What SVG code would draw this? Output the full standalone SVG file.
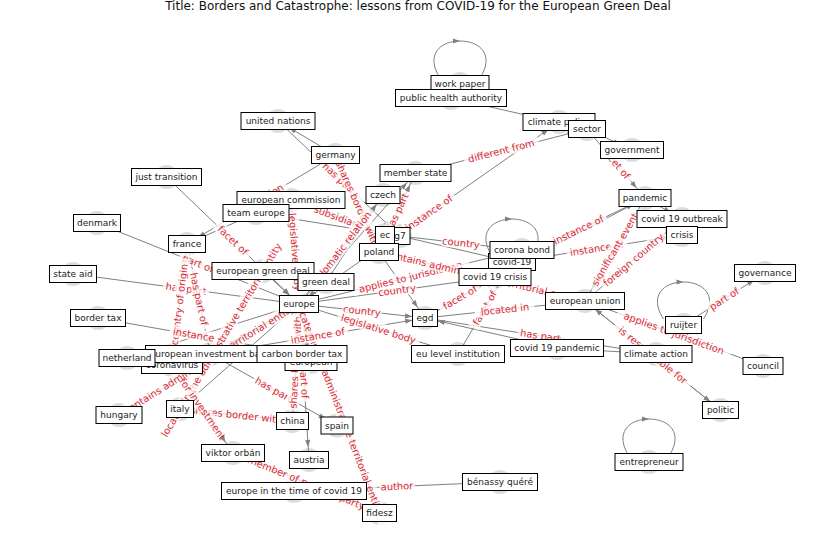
<svg xmlns="http://www.w3.org/2000/svg" width="837" height="559" viewBox="0 0 837 559">
<style>
.c{fill:#dddddd}
.b{fill:#fff;stroke:#000;stroke-width:1}
.t{font-family:"DejaVu Sans",sans-serif;font-size:9px;fill:#222;text-anchor:middle}
.e{stroke:#808080;stroke-width:1;fill:none}
.a{marker-end:url(#ah)}
.el rect{fill:#fff;fill-opacity:0.75}
.el text{font-family:"DejaVu Sans",sans-serif;font-size:9px;fill:#dc2a35;text-anchor:middle}
.lp{fill:#808080}
</style>
<defs>
<marker id="ah" markerUnits="userSpaceOnUse" markerWidth="30" markerHeight="10" refX="20" refY="0" viewBox="0 -5 30 10" orient="auto" overflow="visible"><path d="M0,-2.6 L7,0 L0,2.6 z" fill="#808080"/></marker>
</defs>
<rect width="837" height="559" fill="#fff"/>
<text x="418" y="10" font-family="DejaVu Sans,sans-serif" font-size="12" fill="#111" text-anchor="middle">Title: Borders and Catastrophe: lessons from COVID-19 for the European Green Deal</text>
<g id="circles">
<circle class="c" cx="460" cy="84" r="12"/><circle class="c" cx="451" cy="98" r="12"/><circle class="c" cx="278" cy="121" r="12"/><circle class="c" cx="335.5" cy="155" r="12"/><circle class="c" cx="559" cy="122" r="12"/><circle class="c" cx="587" cy="129" r="12"/><circle class="c" cx="632" cy="150" r="12"/><circle class="c" cx="166.5" cy="177" r="12"/><circle class="c" cx="415.5" cy="173" r="12"/><circle class="c" cx="291" cy="200" r="12"/><circle class="c" cx="383" cy="195" r="12"/><circle class="c" cx="645" cy="198" r="12"/><circle class="c" cx="256" cy="213" r="12"/><circle class="c" cx="682" cy="219" r="12"/><circle class="c" cx="97" cy="223" r="12"/><circle class="c" cx="385" cy="235" r="12"/><circle class="c" cx="400" cy="236" r="12"/><circle class="c" cx="682" cy="235" r="12"/><circle class="c" cx="522" cy="250" r="12"/><circle class="c" cx="187" cy="244" r="12"/><circle class="c" cx="379" cy="252" r="12"/><circle class="c" cx="512" cy="262" r="12"/><circle class="c" cx="73" cy="274" r="12"/><circle class="c" cx="263" cy="271" r="12"/><circle class="c" cx="765" cy="273" r="12"/><circle class="c" cx="326" cy="282" r="12"/><circle class="c" cx="495" cy="277" r="12"/><circle class="c" cx="299" cy="304" r="12"/><circle class="c" cx="585" cy="301" r="12"/><circle class="c" cx="98" cy="318" r="12"/><circle class="c" cx="425" cy="318" r="12"/><circle class="c" cx="683.5" cy="325" r="12"/><circle class="c" cx="557" cy="348" r="12"/><circle class="c" cx="210.5" cy="354" r="12"/><circle class="c" cx="302" cy="354" r="12"/><circle class="c" cx="127" cy="358" r="12"/><circle class="c" cx="458" cy="354" r="12"/><circle class="c" cx="656" cy="354" r="12"/><circle class="c" cx="172" cy="365" r="12"/><circle class="c" cx="311" cy="362" r="12"/><circle class="c" cx="763" cy="366" r="12"/><circle class="c" cx="119" cy="415" r="12"/><circle class="c" cx="180" cy="409" r="12"/><circle class="c" cx="720.5" cy="410" r="12"/><circle class="c" cx="292.5" cy="421" r="12"/><circle class="c" cx="337" cy="425.5" r="12"/><circle class="c" cx="233" cy="453" r="12"/><circle class="c" cx="309" cy="460" r="12"/><circle class="c" cx="649" cy="462" r="12"/><circle class="c" cx="500" cy="482" r="12"/><circle class="c" cx="294" cy="491" r="12"/><circle class="c" cx="379.5" cy="513" r="12"/>
</g>
<g id="edges">
<path class="e" d="M440,78 C425,55 440,41 460,41 C480,41 495,55 480,78"/><path class="lp" d="M453,38.5 L460,41 L453,43.5 z"/>
<path class="e" d="M492,256 C477,233 492,219 512,219 C532,219 547,233 532,256"/><path class="lp" d="M505,216.5 L512,219 L505,221.5 z"/>
<path class="e" d="M663.5,319 C648.5,296 663.5,282 683.5,282 C703.5,282 718.5,296 703.5,319"/><path class="lp" d="M676.5,279.5 L683.5,282 L676.5,284.5 z"/>
<path class="e" d="M629,456 C614,433 629,419 649,419 C669,419 684,433 669,456"/><path class="lp" d="M642,416.5 L649,419 L642,421.5 z"/>
<line class="e a" x1="451" y1="98" x2="587" y2="129"/>
<line class="e a" x1="335.5" y1="155" x2="278" y2="121"/>
<line class="e a" x1="335.5" y1="155" x2="187" y2="244"/>
<line class="e a" x1="415.5" y1="173" x2="587" y2="129"/>
<line class="e a" x1="299" y1="304" x2="559" y2="122"/>
<line class="e a" x1="335.5" y1="155" x2="379" y2="252"/>
<line class="e a" x1="278" y1="121" x2="400" y2="236"/>
<line class="e a" x1="291" y1="200" x2="385" y2="235"/>
<line class="e a" x1="256" y1="213" x2="187" y2="244"/>
<line class="e a" x1="256" y1="213" x2="400" y2="236"/>
<line class="e a" x1="166.5" y1="177" x2="299" y2="304"/>
<line class="e a" x1="97" y1="223" x2="299" y2="304"/>
<line class="e a" x1="172" y1="365" x2="187" y2="244"/>
<line class="e a" x1="210.5" y1="354" x2="187" y2="244"/>
<line class="e a" x1="73" y1="274" x2="299" y2="304"/>
<line class="e a" x1="302" y1="354" x2="98" y2="318"/>
<line class="e a" x1="127" y1="358" x2="299" y2="304"/>
<line class="e a" x1="210.5" y1="354" x2="299" y2="304"/>
<line class="e a" x1="299" y1="304" x2="119" y2="415"/>
<line class="e a" x1="263" y1="271" x2="180" y2="409"/>
<line class="e a" x1="299" y1="304" x2="180" y2="409"/>
<line class="e a" x1="292.5" y1="421" x2="180" y2="409"/>
<line class="e a" x1="172" y1="365" x2="233" y2="453"/>
<line class="e a" x1="210.5" y1="354" x2="337" y2="425.5"/>
<line class="e a" x1="299" y1="304" x2="292.5" y2="421"/>
<line class="e a" x1="299" y1="304" x2="309" y2="460"/>
<line class="e a" x1="299" y1="304" x2="311" y2="362"/>
<line class="e a" x1="299" y1="304" x2="379.5" y2="513"/>
<line class="e a" x1="233" y1="453" x2="379.5" y2="513"/>
<line class="e a" x1="294" y1="491" x2="500" y2="482"/>
<line class="e a" x1="263" y1="271" x2="299" y2="304"/>
<line class="e a" x1="326" y1="282" x2="299" y2="304"/>
<line class="e a" x1="291" y1="200" x2="299" y2="304"/>
<line class="e a" x1="299" y1="304" x2="383" y2="195"/>
<line class="e a" x1="326" y1="282" x2="383" y2="195"/>
<line class="e a" x1="379" y1="252" x2="415.5" y2="173"/>
<line class="e a" x1="299" y1="304" x2="415.5" y2="173"/>
<line class="e a" x1="299" y1="304" x2="425" y2="318"/>
<line class="e a" x1="299" y1="304" x2="495" y2="277"/>
<line class="e a" x1="299" y1="304" x2="458" y2="354"/>
<line class="e a" x1="299" y1="304" x2="522" y2="250"/>
<line class="e a" x1="585" y1="301" x2="379" y2="252"/>
<line class="e a" x1="400" y1="236" x2="522" y2="250"/>
<line class="e a" x1="400" y1="236" x2="512" y2="262"/>
<line class="e a" x1="379" y1="252" x2="425" y2="318"/>
<line class="e a" x1="512" y1="262" x2="645" y2="198"/>
<line class="e a" x1="495" y1="277" x2="645" y2="198"/>
<line class="e a" x1="512" y1="262" x2="682" y2="235"/>
<line class="e a" x1="645" y1="198" x2="585" y2="301"/>
<line class="e a" x1="585" y1="301" x2="682" y2="219"/>
<line class="e a" x1="645" y1="198" x2="682" y2="219"/>
<line class="e a" x1="683.5" y1="325" x2="765" y2="273"/>
<line class="e a" x1="585" y1="301" x2="763" y2="366"/>
<line class="e a" x1="585" y1="301" x2="720.5" y2="410"/>
<line class="e a" x1="720.5" y1="410" x2="585" y2="301"/>
<line class="e a" x1="557" y1="348" x2="656" y2="354"/>
<line class="e a" x1="587" y1="129" x2="632" y2="150"/>
<line class="e a" x1="587" y1="129" x2="645" y2="198"/>
<line class="e a" x1="425" y1="318" x2="495" y2="277"/>
<line class="e a" x1="458" y1="354" x2="512" y2="262"/>
<line class="e a" x1="425" y1="318" x2="585" y2="301"/>
<line class="e a" x1="425" y1="318" x2="656" y2="354"/>
<line class="e a" x1="557" y1="348" x2="425" y2="318"/>
<line class="e a" x1="210.5" y1="354" x2="425" y2="318"/>
</g>
<g id="edge-labels">
<g class="el" transform="translate(261,199.5) rotate(-31) scale(1.1)"><rect x="-27" y="-6" width="54" height="11" rx="2"/><text y="3">legislation</text></g>
<g class="el" transform="translate(501.3,151) rotate(-14.4) scale(1.1)"><rect x="-35" y="-6" width="70" height="11" rx="2"/><text y="3">different from</text></g>
<g class="el" transform="translate(429,213) rotate(-35) scale(1.1)"><rect x="-28" y="-6" width="56" height="11" rx="2"/><text y="3">instance of</text></g>
<g class="el" transform="translate(339,178.5) rotate(43.3) scale(1.1)"><rect x="-21" y="-6" width="42" height="11" rx="2"/><text y="3">has part</text></g>
<g class="el" transform="translate(357.3,203.5) rotate(65.8) scale(1.1)"><rect x="-44" y="-6" width="88" height="11" rx="2"/><text y="3">shares border with</text></g>
<g class="el" transform="translate(338,217.5) rotate(20.4) scale(1.1)"><rect x="-25" y="-6" width="50" height="11" rx="2"/><text y="3">subsidiary</text></g>
<g class="el" transform="translate(232.8,240.5) rotate(43.8) scale(1.1)"><rect x="-21" y="-6" width="42" height="11" rx="2"/><text y="3">facet of</text></g>
<g class="el" transform="translate(198,263.5) rotate(21.8) scale(1.1)"><rect x="-18" y="-6" width="36" height="11" rx="2"/><text y="3">part of</text></g>
<g class="el" transform="translate(186,289) rotate(7.6) scale(1.1)"><rect x="-21" y="-6" width="42" height="11" rx="2"/><text y="3">has part</text></g>
<g class="el" transform="translate(179.5,304.5) rotate(-82.9) scale(1.1)"><rect x="-42" y="-6" width="84" height="11" rx="2"/><text y="3">country of origin</text></g>
<g class="el" transform="translate(198.8,299) rotate(78) scale(1.1)"><rect x="-28" y="-6" width="56" height="11" rx="2"/><text y="3">has part of</text></g>
<g class="el" transform="translate(200,336) rotate(10) scale(1.1)"><rect x="-28" y="-6" width="56" height="11" rx="2"/><text y="3">instance of</text></g>
<g class="el" transform="translate(209,359.5) rotate(-31.7) scale(1.1)"><rect x="-100" y="-6" width="200" height="11" rx="2"/><text y="3">contains administrative territorial entity</text></g>
<g class="el" transform="translate(221.5,340) rotate(-59) scale(1.1)"><rect x="-115" y="-6" width="230" height="11" rx="2"/><text y="3">located in the administrative territorial entity</text></g>
<g class="el" transform="translate(236.3,415) rotate(6.1) scale(1.1)"><rect x="-44" y="-6" width="88" height="11" rx="2"/><text y="3">shares border with</text></g>
<g class="el" transform="translate(202.5,409) rotate(55.3) scale(1.1)"><rect x="-30" y="-6" width="60" height="11" rx="2"/><text y="3">for investment</text></g>
<g class="el" transform="translate(273.8,389.8) rotate(29.5) scale(1.1)"><rect x="-21" y="-6" width="42" height="11" rx="2"/><text y="3">has part</text></g>
<g class="el" transform="translate(295.8,362.5) rotate(-86.8) scale(1.1)"><rect x="-44" y="-6" width="88" height="11" rx="2"/><text y="3">shares border with</text></g>
<g class="el" transform="translate(304,382) rotate(86.3) scale(1.1)"><rect x="-18" y="-6" width="36" height="11" rx="2"/><text y="3">part of</text></g>
<g class="el" transform="translate(339.3,408.5) rotate(68.9) scale(1.1)"><rect x="-115" y="-6" width="230" height="11" rx="2"/><text y="3">located in the administrative territorial entity</text></g>
<g class="el" transform="translate(306.3,483) rotate(22.3) scale(1.1)"><rect x="-61" y="-6" width="122" height="11" rx="2"/><text y="3">member of political party</text></g>
<g class="el" transform="translate(397,486.5) rotate(-2.5) scale(1.1)"><rect x="-16" y="-6" width="32" height="11" rx="2"/><text y="3">author</text></g>
<g class="el" transform="translate(295,252) rotate(85.6) scale(1.1)"><rect x="-39" y="-6" width="78" height="11" rx="2"/><text y="3">legislative body</text></g>
<g class="el" transform="translate(341,249.5) rotate(-52.4) scale(1.1)"><rect x="-46" y="-6" width="92" height="11" rx="2"/><text y="3">diplomatic relation</text></g>
<g class="el" transform="translate(397.3,212.5) rotate(-65.2) scale(1.1)"><rect x="-21" y="-6" width="42" height="11" rx="2"/><text y="3">has part</text></g>
<g class="el" transform="translate(362,311) rotate(6.3) scale(1.1)"><rect x="-18" y="-6" width="36" height="11" rx="2"/><text y="3">country</text></g>
<g class="el" transform="translate(397,290.5) rotate(-7.8) scale(1.1)"><rect x="-18" y="-6" width="36" height="11" rx="2"/><text y="3">country</text></g>
<g class="el" transform="translate(410.5,277) rotate(-13.6) scale(1.1)"><rect x="-55" y="-6" width="110" height="11" rx="2"/><text y="3">applies to jurisdiction</text></g>
<g class="el" transform="translate(378.5,329) rotate(17.5) scale(1.1)"><rect x="-39" y="-6" width="78" height="11" rx="2"/><text y="3">legislative body</text></g>
<g class="el" transform="translate(461,243) rotate(6.5) scale(1.1)"><rect x="-18" y="-6" width="36" height="11" rx="2"/><text y="3">country</text></g>
<g class="el" transform="translate(482,276.5) rotate(13.4) scale(1.1)"><rect x="-100" y="-6" width="200" height="11" rx="2"/><text y="3">contains administrative territorial entity</text></g>
<g class="el" transform="translate(578.5,230) rotate(-25.7) scale(1.1)"><rect x="-28" y="-6" width="56" height="11" rx="2"/><text y="3">instance of</text></g>
<g class="el" transform="translate(597,248.5) rotate(-9) scale(1.1)"><rect x="-28" y="-6" width="56" height="11" rx="2"/><text y="3">instance of</text></g>
<g class="el" transform="translate(615,249.5) rotate(-59.8) scale(1.1)"><rect x="-42" y="-6" width="84" height="11" rx="2"/><text y="3">significant event</text></g>
<g class="el" transform="translate(633.5,260) rotate(-40.2) scale(1.1)"><rect x="-37" y="-6" width="74" height="11" rx="2"/><text y="3">foreign country</text></g>
<g class="el" transform="translate(724.3,299) rotate(-32.5) scale(1.1)"><rect x="-18" y="-6" width="36" height="11" rx="2"/><text y="3">part of</text></g>
<g class="el" transform="translate(674,333.5) rotate(20) scale(1.1)"><rect x="-55" y="-6" width="110" height="11" rx="2"/><text y="3">applies to jurisdiction</text></g>
<g class="el" transform="translate(652.8,355.5) rotate(38.8) scale(1.1)"><rect x="-44" y="-6" width="88" height="11" rx="2"/><text y="3">is responsible for</text></g>
<g class="el" transform="translate(616,163.5) rotate(50) scale(1.1)"><rect x="-21" y="-6" width="42" height="11" rx="2"/><text y="3">facet of</text></g>
<g class="el" transform="translate(460,297.5) rotate(-30.4) scale(1.1)"><rect x="-21" y="-6" width="42" height="11" rx="2"/><text y="3">facet of</text></g>
<g class="el" transform="translate(485,308) rotate(-59.6) scale(1.1)"><rect x="-21" y="-6" width="42" height="11" rx="2"/><text y="3">facet of</text></g>
<g class="el" transform="translate(505,309.5) rotate(-6.1) scale(1.1)"><rect x="-27" y="-6" width="54" height="11" rx="2"/><text y="3">located in</text></g>
<g class="el" transform="translate(540.5,336) rotate(8.9) scale(1.1)"><rect x="-21" y="-6" width="42" height="11" rx="2"/><text y="3">has part</text></g>
<g class="el" transform="translate(317.8,336) rotate(-9.5) scale(1.1)"><rect x="-28" y="-6" width="56" height="11" rx="2"/><text y="3">instance of</text></g>
</g>
<g id="n-work-paper"><rect class="b" x="431" y="75.5" width="58" height="17"/><text class="t" x="460" y="87">work paper</text></g>
<g id="n-public-health-authority"><rect class="b" x="395.5" y="89.5" width="111" height="17"/><text class="t" x="451" y="101">public health authority</text></g>
<g id="n-united-nations"><rect class="b" x="241" y="112.5" width="74" height="17"/><text class="t" x="278" y="124">united nations</text></g>
<g id="n-germany"><rect class="b" x="311.5" y="146.5" width="48" height="17"/><text class="t" x="335.5" y="158">germany</text></g>
<g id="n-climate-policy"><rect class="b" x="523" y="113.5" width="72" height="17"/><text class="t" x="559" y="125">climate policy</text></g>
<g id="n-sector"><rect class="b" x="568.5" y="120.5" width="37" height="17"/><text class="t" x="587" y="132">sector</text></g>
<g id="n-government"><rect class="b" x="600.5" y="141.5" width="63" height="17"/><text class="t" x="632" y="153">government</text></g>
<g id="n-just-transition"><rect class="b" x="131.5" y="168.5" width="70" height="17"/><text class="t" x="166.5" y="180">just transition</text></g>
<g id="n-member-state"><rect class="b" x="380" y="164.5" width="71" height="17"/><text class="t" x="415.5" y="176">member state</text></g>
<g id="n-european-commission"><rect class="b" x="237" y="191.5" width="108" height="17"/><text class="t" x="291" y="203">european commission</text></g>
<g id="n-team-europe"><rect class="b" x="223" y="204.5" width="66" height="17"/><text class="t" x="256" y="216">team europe</text></g>
<g id="n-czech"><rect class="b" x="366" y="186.5" width="34" height="17"/><text class="t" x="383" y="198">czech</text></g>
<g id="n-pandemic"><rect class="b" x="619" y="189.5" width="52" height="17"/><text class="t" x="645" y="201">pandemic</text></g>
<g id="n-covid-19-outbreak"><rect class="b" x="637" y="210.5" width="90" height="17"/><text class="t" x="682" y="222">covid 19 outbreak</text></g>
<g id="n-crisis"><rect class="b" x="666.5" y="226.5" width="31" height="17"/><text class="t" x="682" y="238">crisis</text></g>
<g id="n-denmark"><rect class="b" x="73.5" y="214.5" width="47" height="17"/><text class="t" x="97" y="226">denmark</text></g>
<g id="n-g7"><rect class="b" x="390" y="227.5" width="20" height="17"/><text class="t" x="400" y="239">g7</text></g>
<g id="n-ec"><rect class="b" x="375.5" y="226.5" width="19" height="17"/><text class="t" x="385" y="238">ec</text></g>
<g id="n-poland"><rect class="b" x="359.5" y="243.5" width="39" height="17"/><text class="t" x="379" y="255">poland</text></g>
<g id="n-france"><rect class="b" x="168.5" y="235.5" width="37" height="17"/><text class="t" x="187" y="247">france</text></g>
<g id="n-covid-19"><rect class="b" x="488.5" y="253.5" width="47" height="17"/><text class="t" x="512" y="265">covid-19</text></g>
<g id="n-corona-bond"><rect class="b" x="490" y="241.5" width="64" height="17"/><text class="t" x="522" y="253">corona bond</text></g>
<g id="n-covid-19-crisis"><rect class="b" x="459" y="268.5" width="72" height="17"/><text class="t" x="495" y="280">covid 19 crisis</text></g>
<g id="n-state-aid"><rect class="b" x="49.5" y="265.5" width="47" height="17"/><text class="t" x="73" y="277">state aid</text></g>
<g id="n-european-green-deal"><rect class="b" x="212" y="262.5" width="102" height="17"/><text class="t" x="263" y="274">european green deal</text></g>
<g id="n-green-deal"><rect class="b" x="298" y="273.5" width="56" height="17"/><text class="t" x="326" y="285">green deal</text></g>
<g id="n-governance"><rect class="b" x="734.5" y="264.5" width="61" height="17"/><text class="t" x="765" y="276">governance</text></g>
<g id="n-europe"><rect class="b" x="279.5" y="295.5" width="39" height="17"/><text class="t" x="299" y="307">europe</text></g>
<g id="n-european-union"><rect class="b" x="545.5" y="292.5" width="79" height="17"/><text class="t" x="585" y="304">european union</text></g>
<g id="n-border-tax"><rect class="b" x="70.5" y="309.5" width="55" height="17"/><text class="t" x="98" y="321">border tax</text></g>
<g id="n-egd"><rect class="b" x="412.5" y="309.5" width="25" height="17"/><text class="t" x="425" y="321">egd</text></g>
<g id="n-ruijter"><rect class="b" x="665.5" y="316.5" width="36" height="17"/><text class="t" x="683.5" y="328">ruijter</text></g>
<g id="n-covid-19-pandemic"><rect class="b" x="510.5" y="339.5" width="93" height="17"/><text class="t" x="557" y="351">covid 19 pandemic</text></g>
<g id="n-european"><rect class="b" x="285" y="353.5" width="52" height="17"/><text class="t" x="311" y="365">european</text></g>
<g id="n-coronavirus"><rect class="b" x="141.5" y="356.5" width="61" height="17"/><text class="t" x="172" y="368">coronavirus</text></g>
<g id="n-european-investment-bank"><rect class="b" x="145.5" y="345.5" width="130" height="17"/><text class="t" x="210.5" y="357">european investment bank</text></g>
<g id="n-netherland"><rect class="b" x="99" y="349.5" width="56" height="17"/><text class="t" x="127" y="361">netherland</text></g>
<g id="n-carbon-border-tax"><rect class="b" x="257" y="345.5" width="90" height="17"/><text class="t" x="302" y="357">carbon border tax</text></g>
<g id="n-eu-level-institution"><rect class="b" x="411.5" y="345.5" width="93" height="17"/><text class="t" x="458" y="357">eu level institution</text></g>
<g id="n-climate-action"><rect class="b" x="620" y="345.5" width="72" height="17"/><text class="t" x="656" y="357">climate action</text></g>
<g id="n-council"><rect class="b" x="743" y="357.5" width="40" height="17"/><text class="t" x="763" y="369">council</text></g>
<g id="n-hungary"><rect class="b" x="96" y="406.5" width="46" height="17"/><text class="t" x="119" y="418">hungary</text></g>
<g id="n-italy"><rect class="b" x="166.5" y="400.5" width="27" height="17"/><text class="t" x="180" y="412">italy</text></g>
<g id="n-politic"><rect class="b" x="702.5" y="401.5" width="36" height="17"/><text class="t" x="720.5" y="413">politic</text></g>
<g id="n-china"><rect class="b" x="276.5" y="412.5" width="32" height="17"/><text class="t" x="292.5" y="424">china</text></g>
<g id="n-spain"><rect class="b" x="321" y="417" width="32" height="17"/><text class="t" x="337" y="428.5">spain</text></g>
<g id="n-viktor-orban"><rect class="b" x="201.5" y="444.5" width="63" height="17"/><text class="t" x="233" y="456">viktor orbán</text></g>
<g id="n-austria"><rect class="b" x="289.5" y="451.5" width="39" height="17"/><text class="t" x="309" y="463">austria</text></g>
<g id="n-entrepreneur"><rect class="b" x="615" y="453.5" width="68" height="17"/><text class="t" x="649" y="465">entrepreneur</text></g>
<g id="n-benassy-quere"><rect class="b" x="462.5" y="473.5" width="75" height="17"/><text class="t" x="500" y="485">bénassy quéré</text></g>
<g id="n-europe-in-the-time-of-covid-19"><rect class="b" x="221.5" y="482.5" width="145" height="17"/><text class="t" x="294" y="494">europe in the time of covid 19</text></g>
<g id="n-fidesz"><rect class="b" x="362.5" y="504.5" width="34" height="17"/><text class="t" x="379.5" y="516">fidesz</text></g>
</svg>
